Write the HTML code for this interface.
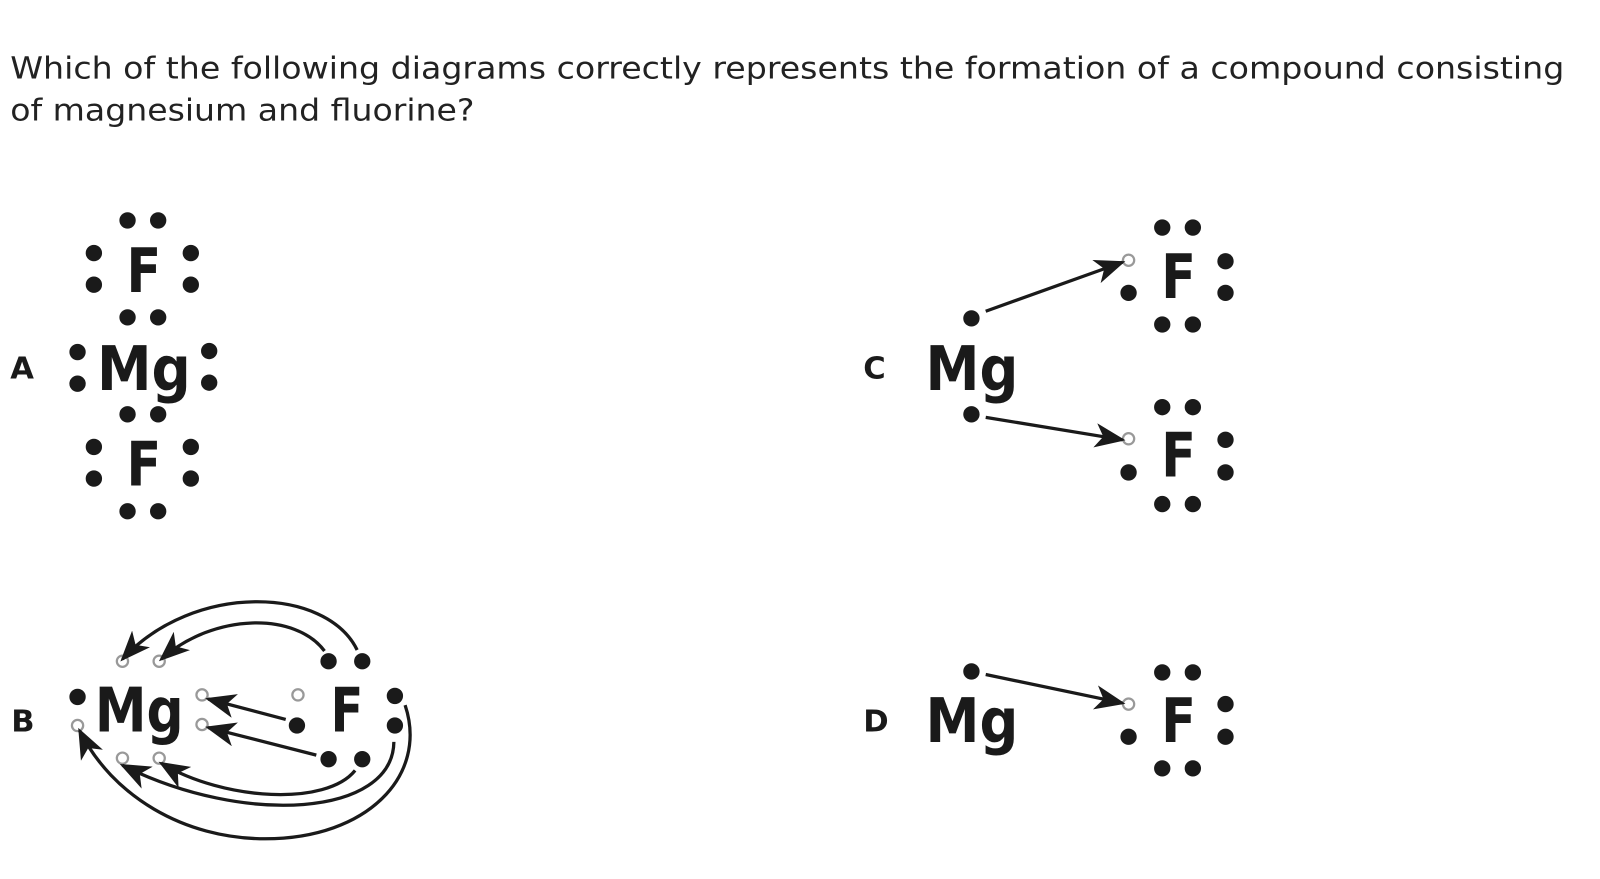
<!DOCTYPE html>
<html><head><meta charset="utf-8"><style>
html,body{margin:0;padding:0;background:#fff;}
svg{display:block;}
</style></head><body>
<svg width="1600" height="879" viewBox="0 0 1568 861.4" xmlns="http://www.w3.org/2000/svg">
<defs>
<marker id="ah" markerWidth="30" markerHeight="24" refX="27" refY="12" orient="auto" markerUnits="userSpaceOnUse">
<path d="M0,0 L30,12 L0,24 L8,12 Z" fill="#1a1a1a"/>
</marker>
</defs>
<g font-family="'DejaVu Sans','Liberation Sans',sans-serif" fill="#222" font-size="30">
<text x="10" y="77" textLength="1523" lengthAdjust="spacingAndGlyphs">Which of the following diagrams correctly represents the formation of a compound consisting</text>
<text x="10" y="118" textLength="455" lengthAdjust="spacingAndGlyphs">of magnesium and fluorine?</text>
</g>
<g font-family="'DejaVu Sans','Liberation Sans',sans-serif" font-weight="bold" fill="#1a1a1a">
<text x="10" y="371" font-size="30">A</text>
<text x="11" y="717" font-size="30">B</text>
<text x="846" y="371" font-size="30">C</text>
<text x="846" y="717" font-size="30">D</text>
<text x="124" y="286" font-size="60" textLength="34" lengthAdjust="spacingAndGlyphs">F</text>
<text x="95" y="382" font-size="60" textLength="92" lengthAdjust="spacingAndGlyphs">Mg</text>
<text x="124" y="476" font-size="60" textLength="34" lengthAdjust="spacingAndGlyphs">F</text>
<text x="907" y="382" font-size="60" textLength="91" lengthAdjust="spacingAndGlyphs">Mg</text>
<text x="1138" y="292" font-size="60" textLength="34" lengthAdjust="spacingAndGlyphs">F</text>
<text x="1138" y="467" font-size="60" textLength="34" lengthAdjust="spacingAndGlyphs">F</text>
<text x="907" y="727" font-size="60" textLength="91" lengthAdjust="spacingAndGlyphs">Mg</text>
<text x="1138" y="727" font-size="60" textLength="34" lengthAdjust="spacingAndGlyphs">F</text>
<text x="93" y="717" font-size="60" textLength="87" lengthAdjust="spacingAndGlyphs">Mg</text>
<text x="324" y="717" font-size="60" textLength="32" lengthAdjust="spacingAndGlyphs">F</text>
</g>
<g fill="#1a1a1a">
<circle cx="125" cy="216" r="8"/><circle cx="155" cy="216" r="8"/>
<circle cx="92" cy="248" r="8"/><circle cx="92" cy="279" r="8"/>
<circle cx="187" cy="248" r="8"/><circle cx="187" cy="279" r="8"/>
<circle cx="125" cy="311" r="8"/><circle cx="155" cy="311" r="8"/>
<circle cx="76" cy="345" r="8"/><circle cx="76" cy="376" r="8"/>
<circle cx="205" cy="344" r="8"/><circle cx="205" cy="375" r="8"/>
<circle cx="125" cy="406" r="8"/><circle cx="155" cy="406" r="8"/>
<circle cx="92" cy="438" r="8"/><circle cx="92" cy="469" r="8"/>
<circle cx="187" cy="438" r="8"/><circle cx="187" cy="469" r="8"/>
<circle cx="125" cy="501" r="8"/><circle cx="155" cy="501" r="8"/>
<circle cx="952" cy="312" r="8"/><circle cx="952" cy="406" r="8"/>
<circle cx="1139" cy="223" r="8"/><circle cx="1169" cy="223" r="8"/>
<circle cx="1106" cy="287" r="8"/>
<circle cx="1201" cy="256" r="8"/><circle cx="1201" cy="287" r="8"/>
<circle cx="1139" cy="318" r="8"/><circle cx="1169" cy="318" r="8"/>
<circle cx="1139" cy="399" r="8"/><circle cx="1169" cy="399" r="8"/>
<circle cx="1106" cy="463" r="8"/>
<circle cx="1201" cy="431" r="8"/><circle cx="1201" cy="463" r="8"/>
<circle cx="1139" cy="494" r="8"/><circle cx="1169" cy="494" r="8"/>
<circle cx="952" cy="658" r="8"/>
<circle cx="1139" cy="659" r="8"/><circle cx="1169" cy="659" r="8"/>
<circle cx="1106" cy="722" r="8"/>
<circle cx="1201" cy="690" r="8"/><circle cx="1201" cy="722" r="8"/>
<circle cx="1139" cy="753" r="8"/><circle cx="1169" cy="753" r="8"/>
<circle cx="76" cy="683" r="8"/>
<circle cx="291" cy="711" r="8"/>
<circle cx="322" cy="648" r="8"/><circle cx="355" cy="648" r="8"/>
<circle cx="387" cy="682" r="8"/><circle cx="387" cy="711" r="8"/>
<circle cx="322" cy="744" r="8"/><circle cx="355" cy="744" r="8"/>
</g>
<g fill="#fff" stroke="#999" stroke-width="2.2">
<circle cx="1106" cy="255" r="5.5"/><circle cx="1106" cy="430" r="5.5"/><circle cx="1106" cy="690" r="5.5"/>
<circle cx="76" cy="711" r="5.5"/>
<circle cx="120" cy="648" r="5.5"/><circle cx="156" cy="648" r="5.5"/>
<circle cx="120" cy="743" r="5.5"/><circle cx="156" cy="743" r="5.5"/>
<circle cx="198" cy="681" r="5.5"/><circle cx="198" cy="710" r="5.5"/>
<circle cx="292" cy="681" r="5.5"/>
</g>
<g stroke="#1a1a1a" stroke-width="3.2" fill="none" marker-end="url(#ah)">
<path d="M966,305 L1100,257"/>
<path d="M966,409 L1100,431"/>
<path d="M966,661 L1100,689"/>
<path d="M280,705 L204,685"/>
<path d="M310,740 L204,713"/>
<path d="M318,638 C290,600 210,600 158,646"/>
<path d="M350,637 C320,575 190,570 120,646"/>
<path d="M348,755 C320,790 220,785 158,748"/>
<path d="M386,727 C385,800 240,810 120,750"/>
<path d="M397,691 C420,760 360,822 260,822 C180,822 110,780 78,716"/>
</g>
</svg>
</body></html>
